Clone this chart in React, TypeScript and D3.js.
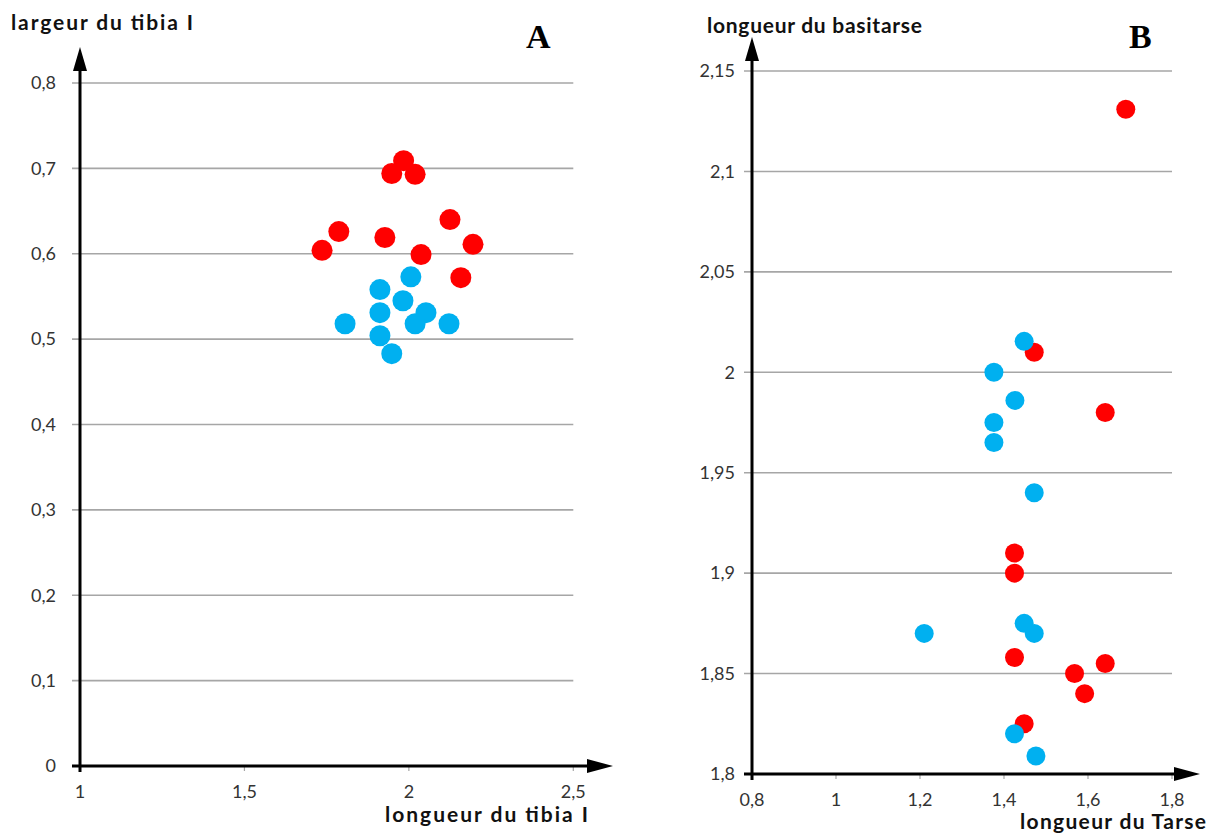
import React from "react";
import * as d3 from "d3";

// Panel A: longueur du tibia I (x) vs largeur du tibia I (y)
const aRedX = [1.984, 1.948, 2.019, 1.787, 1.736, 1.927, 2.125, 2.195, 2.037, 2.158];
const aRedY = [0.709, 0.694, 0.693, 0.626, 0.604, 0.619, 0.640, 0.611, 0.599, 0.572];
const aBlueX = [2.006, 1.912, 1.982, 1.912, 2.052, 1.806, 2.019, 2.122, 1.912, 1.948];
const aBlueY = [0.573, 0.558, 0.545, 0.531, 0.531, 0.518, 0.518, 0.518, 0.504, 0.483];
const aXTicks = [1, 1.5, 2, 2.5];
const aYTicks = [0, 0.1, 0.2, 0.3, 0.4, 0.5, 0.6, 0.7, 0.8];

// Panel B: longueur du Tarse (x) vs longueur du basitarse (y)
const bRedX = [1.69, 1.472, 1.641, 1.425, 1.425, 1.425, 1.641, 1.568, 1.592, 1.448];
const bRedY = [2.131, 2.010, 1.980, 1.910, 1.900, 1.858, 1.855, 1.850, 1.840, 1.825];
const bBlueX = [1.448, 1.376, 1.426, 1.376, 1.376, 1.472, 1.21, 1.448, 1.472, 1.425, 1.476];
const bBlueY = [2.0154, 2.0, 1.986, 1.975, 1.965, 1.94, 1.87, 1.875, 1.87, 1.82, 1.809];
const bXTicks = [0.8, 1, 1.2, 1.4, 1.6, 1.8];
const bYTicks = [1.8, 1.85, 1.9, 1.95, 2, 2.05, 2.1, 2.15];

const RED = "#FF0000";
const BLUE = "#00B0F0";
const FONT = "Lato, 'Open Sans', sans-serif";
const fmt = (v: number) => String(+v.toFixed(2)).replace(".", ",");

type PanelProps = {
  xDomain: [number, number];
  yDomain: [number, number];
  xRange: [number, number];
  yRange: [number, number];
  xTicks: number[];
  yTicks: number[];
  redX: number[];
  redY: number[];
  blueX: number[];
  blueY: number[];
  r: number;
  yTip: number;
  xTip: number;
  yLabelGap: number;
  yTitle: string;
  yTitleX: number;
  yTitleY: number;
  yTitleW: number;
  xTitle: string;
  xTitleX: number;
  xTitleY: number;
  xTitleW: number;
  letter: string;
  letterX: number;
};

function Panel(p: PanelProps) {
  const x = d3.scaleLinear().domain(p.xDomain).range(p.xRange);
  const y = d3.scaleLinear().domain(p.yDomain).range(p.yRange);
  const x0 = p.xRange[0];
  const y0 = p.yRange[0];
  const gridEnd = x(p.xTicks[p.xTicks.length - 1]);
  return (
    <g>
      {p.yTicks.map((t) =>
        t === p.yDomain[0] ? null : (
          <line key={"g" + t} x1={x0 - 8} x2={gridEnd} y1={y(t)} y2={y(t)} stroke="#A6A6A6" strokeWidth={1.6} />
        )
      )}
      {p.xTicks.map((t) => (
        <line key={"xt" + t} x1={x(t)} x2={x(t)} y1={y0} y2={y0 + 5} stroke="#A6A6A6" strokeWidth={1.2} />
      ))}
      {p.yTicks.map((t) => (
        <text key={"yl" + t} x={x0 - p.yLabelGap} y={y(t)} dy="0.35em" textAnchor="end" fontFamily={FONT} fontSize={18} fill="#333">
          {fmt(t)}
        </text>
      ))}
      {p.xTicks.map((t) => (
        <text key={"xl" + t} x={x(t)} y={y0 + 26} dy="0.35em" textAnchor="middle" fontFamily={FONT} fontSize={18} fill="#333">
          {fmt(t)}
        </text>
      ))}
      {/* axes */}
      <line x1={x0 - 8} x2={p.xTip - 20} y1={y0} y2={y0} stroke="#000" strokeWidth={3} />
      <line x1={x0} x2={x0} y1={y0 + 6} y2={p.yTip + 20} stroke="#000" strokeWidth={3} />
      <path d={`M${x0},${p.yTip} L${x0 - 7},${p.yTip + 24} L${x0 + 7},${p.yTip + 24} Z`} fill="#000" />
      <path d={`M${p.xTip},${y0} L${p.xTip - 26},${y0 - 7} L${p.xTip - 26},${y0 + 7} Z`} fill="#000" />
      {/* points */}
      {p.redX.map((v, i) => (
        <circle key={"r" + i} cx={x(v)} cy={y(p.redY[i])} r={p.r} fill={RED} />
      ))}
      {p.blueX.map((v, i) => (
        <circle key={"b" + i} cx={x(v)} cy={y(p.blueY[i])} r={p.r} fill={BLUE} />
      ))}
      {/* titles */}
      <text x={p.yTitleX} y={p.yTitleY} dy="0.35em" fontFamily={FONT} fontWeight={700} fontSize={21} fill="#111"
        textLength={p.yTitleW} lengthAdjust="spacing">
        {p.yTitle}
      </text>
      <text x={p.xTitleX - p.xTitleW} y={p.xTitleY} dy="0.35em" fontFamily={FONT} fontWeight={700} fontSize={21} fill="#111"
        textLength={p.xTitleW} lengthAdjust="spacing">
        {p.xTitle}
      </text>
      <text x={p.letterX} y={48} fontFamily="'Liberation Serif', 'DejaVu Serif', serif" fontWeight={700} fontSize={34} fill="#000">
        {p.letter}
      </text>
    </g>
  );
}

export default function App() {
  return (
    <svg width={1214} height={834} style={{ position: "absolute", left: 0, top: 0, background: "#fff" }}>
      <rect width={1214} height={834} fill="#fff" />
      <Panel
        xDomain={[1, 2.5]}
        yDomain={[0, 0.8]}
        xRange={[80, 573.3]}
        yRange={[766, 83]}
        xTicks={aXTicks}
        yTicks={aYTicks}
        redX={aRedX}
        redY={aRedY}
        blueX={aBlueX}
        blueY={aBlueY}
        r={10.5}
        yTip={47}
        xTip={613}
        yLabelGap={24}
        yTitle="largeur du tibia I"
        yTitleX={11}
        yTitleY={23}
        yTitleW={182}
        xTitle="longueur du tibia I"
        xTitleX={588}
        xTitleY={815}
        xTitleW={203}
        letter="A"
        letterX={526}
      />
      <Panel
        xDomain={[0.8, 1.8]}
        yDomain={[1.8, 2.15]}
        xRange={[752, 1172]}
        yRange={[774, 71]}
        xTicks={bXTicks}
        yTicks={bYTicks}
        redX={bRedX}
        redY={bRedY}
        blueX={bBlueX}
        blueY={bBlueY}
        r={9.5}
        yTip={37}
        xTip={1200}
        yLabelGap={17}
        yTitle="longueur du basitarse"
        yTitleX={707}
        yTitleY={26}
        yTitleW={215}
        xTitle="longueur du Tarse"
        xTitleX={1206}
        xTitleY={822}
        xTitleW={186}
        letter="B"
        letterX={1129}
      />
    </svg>
  );
}
